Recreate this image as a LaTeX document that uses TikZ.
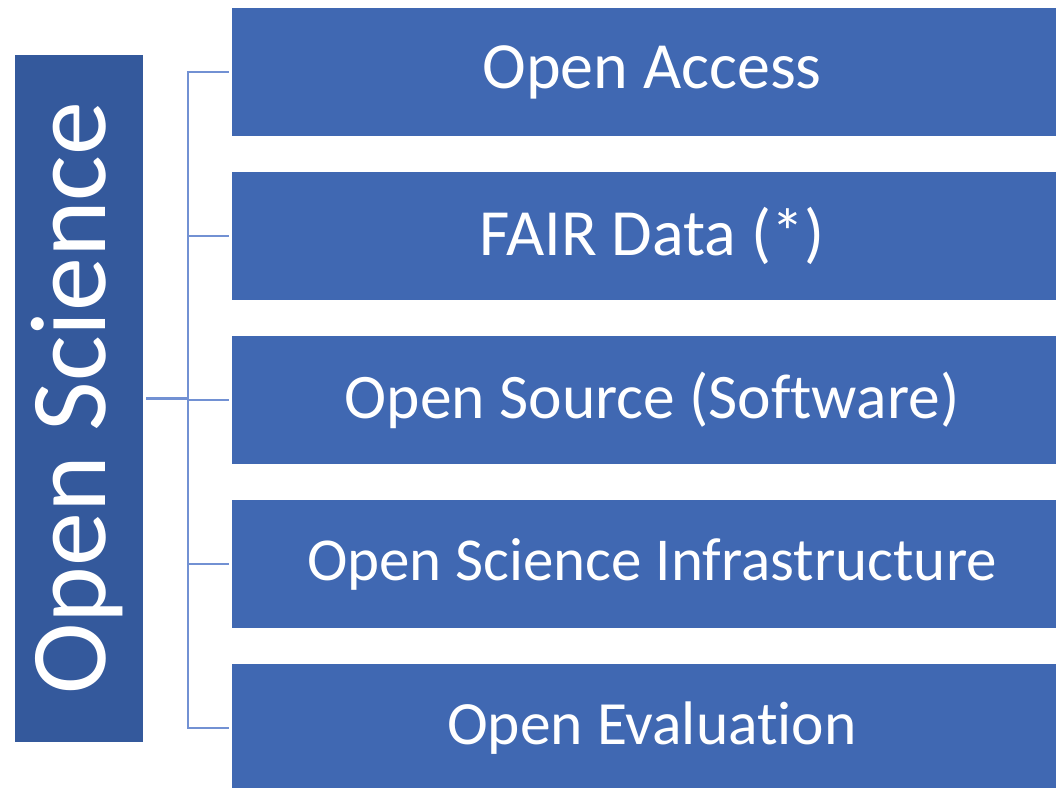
\documentclass[tikz,border=0pt]{standalone}
\usepackage{fontspec}
\setmainfont{Carlito}[Ligatures=NoCommon]
\definecolor{boxblue}{HTML}{4068B2}
\definecolor{rootblue}{HTML}{34599C}
\definecolor{linkblue}{HTML}{7291D3}
\newcommand{\labelsize}[1]{\fontsize{#1}{#1}\selectfont}
\begin{document}
\begin{tikzpicture}[x=1pt,y=-1pt,
  item/.style={rectangle, fill=boxblue, draw=none, minimum width=840pt,
    minimum height=128pt, inner sep=0pt, text=white, font=\labelsize{66}},
  root/.style={rectangle, fill=rootblue, draw=none, minimum width=128pt,
    minimum height=687pt, inner sep=0pt},
  roottext/.style={text=white, font=\labelsize{108}, rotate=90},
  link/.style={draw=linkblue, line width=2.5pt}]
\useasboundingbox (0,0) rectangle (1056,787);
\clip (0,0) rectangle (1056,787);
% central topic on the left, set vertically
\node[root] (os) at (79,398.5) {};
\node[roottext] (ostext) at (77,398) {Open Science};
% the five branches
\node[item] (b1) at (652,72)  {Open Access};
\node[item] (b2) at (652,236) {FAIR Data (*)};
\node[item, font=\labelsize{63.5}] (b3) at (652,400) {Open Source (Software)};
\node[item, font=\labelsize{61}] (b4) at (652,564) {Open Science Infrastructure};
\node[item, font=\labelsize{61.5}] (b5) at (652,728) {Open Evaluation};
% bracket connectors
\coordinate (spine) at (188,398.5);
\draw[link, shorten <=3pt] (os.east) -- (spine);
\draw[link, line cap=rect] (spine |- b1.west) -- (spine |- b5.west);
\foreach \b in {b1,b2,b3,b4,b5}
  \draw[link, shorten >=3pt] (spine |- \b.west) -- (\b.west);
\end{tikzpicture}
\end{document}
